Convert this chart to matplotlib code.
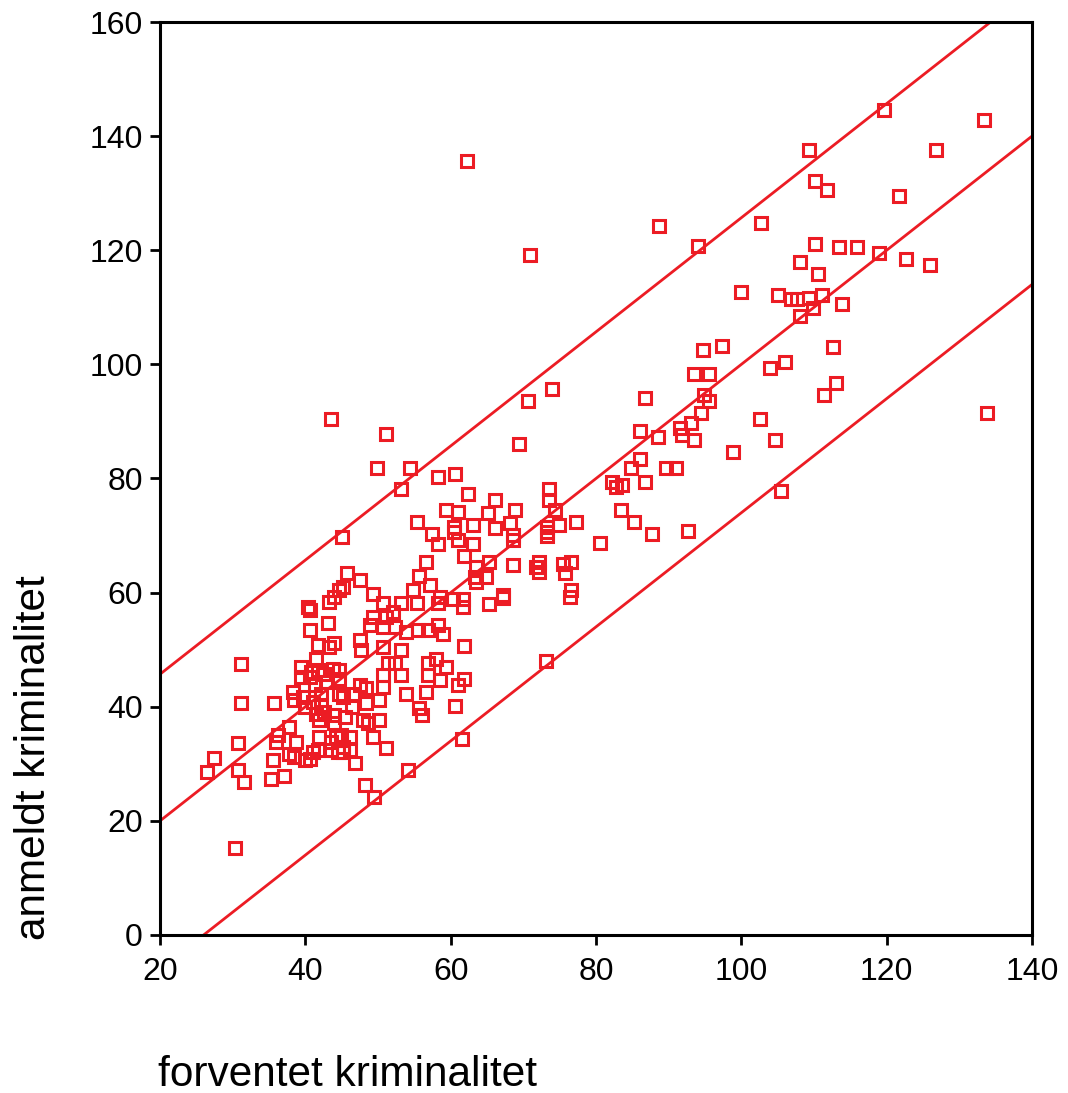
import matplotlib
matplotlib.use("Agg")
import matplotlib.pyplot as plt
import numpy as np

plt.rcParams['font.family'] = ['Liberation Sans', 'DejaVu Sans']

red = "#ec1c24"

# expected (x) and reported (y) crime index per municipality
x_vals = [
    119.7, 133.4, 109.3, 126.8, 110.2, 111.8, 121.7, 102.7, 110.2, 113.5,
    115.9, 118.9, 122.6, 126.0, 108.1, 110.5, 105.1, 106.8, 107.6, 109.3,
    111.1, 109.8, 108.1, 113.8, 112.6, 103.9, 106.0, 113.0, 111.4, 133.8,
    102.5, 104.7, 105.5, 100.0, 94.0, 88.7, 70.9, 62.3,
    94.7, 97.3, 93.5, 95.5, 86.8, 94.8, 95.6, 94.4, 93.1, 91.5,
    91.8, 93.5, 86.0, 88.5, 98.9, 86.0, 84.8, 89.7, 91.0, 82.2,
    82.8, 83.6, 86.8, 83.5, 85.2, 87.7, 92.6, 80.6, 77.3,
    76.5, 75.4, 75.7, 76.5, 76.4,
    73.9, 70.6, 51.1, 69.4, 49.8, 54.4, 58.2, 60.6, 53.1, 45.1,
    62.4, 66.1, 73.6, 73.6, 74.3, 59.4, 61.0, 65.2, 68.9, 55.3,
    57.4, 60.5, 60.5, 63.1, 66.1, 68.1, 68.6, 68.6, 73.2, 73.2,
    73.2, 74.9, 58.2, 61.0, 63.1, 61.9, 63.5, 65.3, 56.6, 55.7,
    68.6, 72.2, 71.8, 72.2, 45.7, 47.5, 64.9, 63.3,
    63.5, 49.3, 44.7, 54.8, 57.1, 50.7, 53.2, 55.3, 58.3, 58.5,
    60.3, 61.7, 61.7, 65.3, 67.2, 67.2, 49.3, 51.1, 52.1, 48.9,
    50.7, 52.3, 53.9, 55.5, 56.9, 58.3, 58.9, 47.5, 47.7, 50.7,
    53.2, 61.9, 58.0, 59.4, 56.9, 51.4, 52.3, 44.7, 56.9, 58.5,
    61.9, 61.0, 53.2, 50.7, 47.5, 48.4, 46.6, 50.7, 50.2, 53.9,
    56.6, 60.6, 55.7, 56.0, 45.2, 46.4, 48.4, 50.2, 48.6, 47.9,
    46.1, 49.3, 45.2, 46.1, 51.1, 46.9, 61.5, 54.1, 48.2, 49.4,
    73.1, 43.6,
    45.2, 44.0, 43.3, 40.3, 40.6, 43.1, 40.7, 44.0, 43.3, 41.7,
    41.5, 39.4, 39.4, 40.8, 41.7, 42.6, 43.8, 44.7, 40.6, 38.3,
    38.5, 39.7, 41.0, 42.2, 41.5, 42.6, 44.0, 44.7, 41.9, 44.0,
    45.4, 44.2, 41.9, 43.5, 44.9, 41.0, 40.6, 39.9, 37.8, 36.2,
    38.7, 36.0, 35.5, 35.3, 37.0, 37.8, 38.5, 41.7, 43.5, 44.5,
    45.2, 30.7, 27.4, 26.5, 30.7, 31.5, 31.1, 31.1, 35.7, 30.3,
    39.9, 42.2, 41.3, 42.9,
]
y_vals = [
    144.5, 142.9, 137.5, 137.5, 132.2, 130.6, 129.5, 124.7, 121.1, 120.5,
    120.5, 119.5, 118.4, 117.4, 117.9, 115.8, 112.1, 111.5, 111.5, 111.7,
    112.1, 109.9, 108.4, 110.6, 103.0, 99.4, 100.4, 96.7, 94.6, 91.5,
    90.5, 86.7, 77.8, 112.6, 120.7, 124.3, 119.1, 135.6,
    102.6, 103.2, 98.4, 98.4, 94.1, 94.6, 93.6, 91.4, 89.8, 88.8,
    87.6, 86.7, 88.3, 87.3, 84.6, 83.5, 81.9, 81.9, 81.9, 79.4,
    78.5, 78.8, 79.3, 74.4, 72.4, 70.2, 70.8, 68.7, 72.4,
    65.4, 65.1, 63.4, 60.4, 59.2,
    95.7, 93.6, 87.8, 86.1, 81.9, 81.9, 80.3, 80.8, 78.2, 69.8,
    77.2, 76.2, 78.2, 76.2, 74.4, 74.5, 74.1, 74.0, 74.4, 72.4,
    70.3, 71.5, 70.6, 71.8, 71.3, 72.2, 70.1, 69.3, 71.5, 70.6,
    69.9, 71.8, 68.6, 69.2, 68.6, 66.5, 64.5, 65.4, 65.4, 63.0,
    64.9, 65.4, 64.5, 63.6, 63.5, 62.2, 62.7, 62.7,
    61.9, 59.8, 60.4, 60.4, 61.3, 58.1, 58.1, 58.1, 58.1, 59.2,
    58.9, 58.8, 57.5, 58.0, 59.5, 59.0, 55.7, 55.7, 56.6, 54.3,
    54.0, 54.0, 53.1, 53.4, 53.4, 54.3, 52.8, 51.7, 50.0, 50.5,
    50.0, 50.6, 48.4, 47.0, 47.6, 47.6, 47.6, 46.4, 45.5, 44.7,
    44.8, 43.8, 45.5, 45.5, 43.8, 43.2, 42.3, 43.5, 41.2, 42.3,
    42.6, 40.1, 39.7, 38.5, 41.7, 40.0, 40.6, 37.7, 37.1, 37.7,
    34.7, 34.7, 33.0, 32.4, 32.7, 30.1, 34.3, 29.0, 26.3, 24.2,
    48.0, 90.5,
    60.9, 59.2, 58.4, 57.5, 57.0, 54.6, 53.4, 51.1, 50.5, 50.8,
    48.4, 47.0, 45.2, 46.1, 46.4, 45.8, 46.7, 44.9, 45.2, 42.6,
    41.2, 41.7, 40.9, 40.3, 38.8, 39.1, 38.5, 42.3, 37.7, 37.1,
    38.2, 34.7, 34.7, 33.9, 35.0, 32.1, 30.9, 30.6, 36.5, 35.0,
    33.9, 33.9, 30.6, 27.4, 27.8, 31.8, 31.2, 32.4, 32.4, 32.1,
    32.1, 33.7, 31.1, 28.5, 29.0, 26.8, 47.5, 40.6, 40.6, 15.2,
    40.0, 42.3, 43.8, 44.4,
]

# prediction band around the line reported = expected
line_x = [20, 140]
band_upper = 25.7
band_lower = 26.0

fig = plt.figure(figsize=(10.68, 10.93), dpi=100)
ax = fig.add_axes([160 / 1068, 158 / 1093, 872 / 1068, 913 / 1093])

lx = np.array(line_x, dtype=float)
ax.plot(lx, lx, color=red, lw=2, zorder=2)
ax.plot(lx, lx + band_upper, color=red, lw=2, zorder=2)
ax.plot(lx, lx - band_lower, color=red, lw=2, zorder=2)

ax.plot(x_vals, y_vals, linestyle="none", marker="s", markersize=8.5,
        markerfacecolor="none", markeredgecolor=red, markeredgewidth=2.2,
        zorder=3)

ax.set_xlim(20, 140)
ax.set_ylim(0, 160)
ax.set_xticks(range(20, 141, 20))
ax.set_yticks(range(0, 161, 20))
ax.tick_params(direction="out", length=7.5, width=2, labelsize=23,
               colors="black")
ax.tick_params(axis="x", pad=8)
ax.tick_params(axis="y", pad=5)
for s in ax.spines.values():
    s.set_linewidth(2.2)
    s.set_color("black")

fig.text(158 / 1068, 1 - 1075 / 1093, "forventet kriminalitet",
         fontsize=30.5, ha="left", va="center")
fig.text(34 / 1068, 1 - 940 / 1093, "anmeldt kriminalitet",
         fontsize=30.5, ha="center", va="bottom", rotation=90)

fig.savefig("out.png", dpi=100)
